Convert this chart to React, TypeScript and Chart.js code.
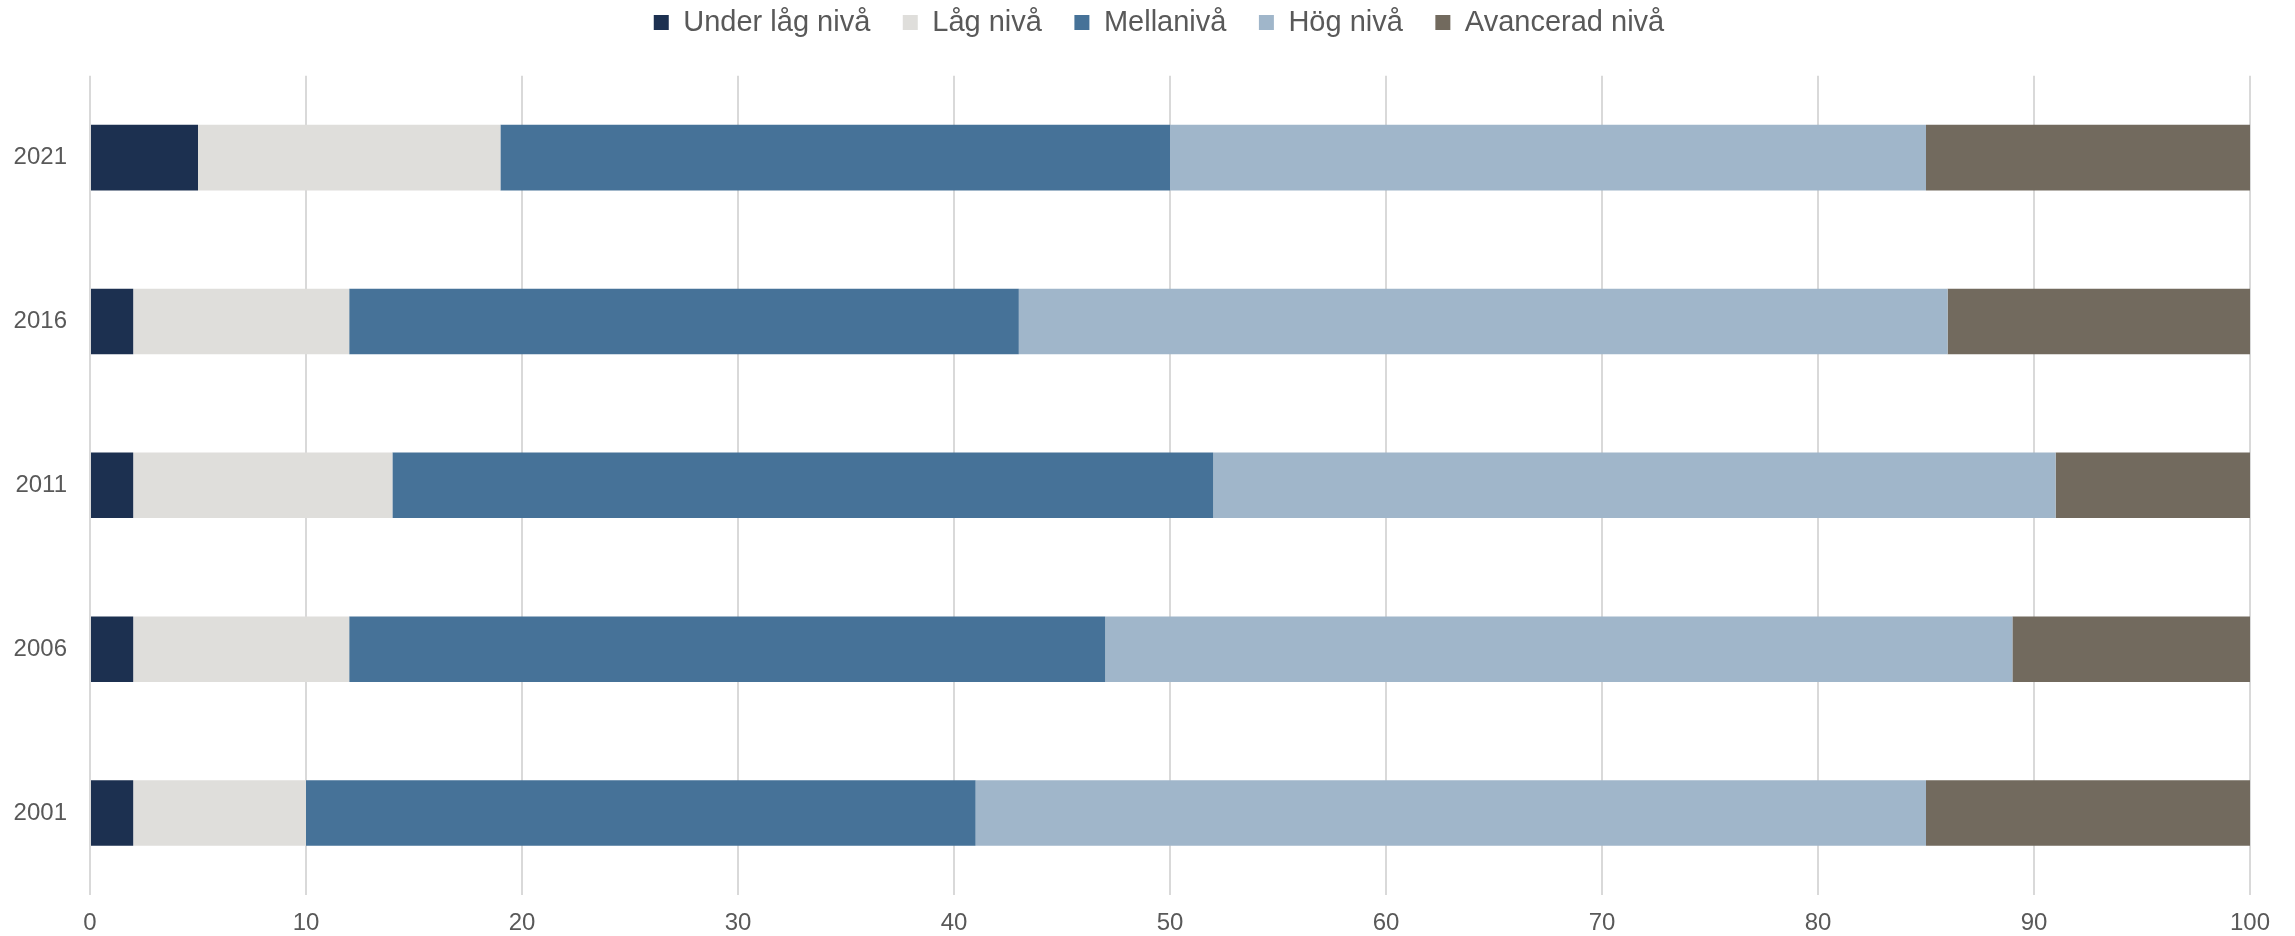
import React, { useEffect, useRef } from "react";
import { Chart, registerables } from "chart.js";

Chart.register(...registerables);

const years = ["2021", "2016", "2011", "2006", "2001"];
const seriesNames = ["Under låg nivå", "Låg nivå", "Mellanivå", "Hög nivå", "Avancerad nivå"];
const underLag = [5, 2, 2, 2, 2];
const lag = [14, 10, 12, 10, 8];
const mellan = [31, 31, 38, 35, 31];
const hog = [35, 43, 39, 42, 44];
const avancerad = [15, 14, 9, 11, 15];
const xTicks = [0, 10, 20, 30, 40, 50, 60, 70, 80, 90, 100];

const colors = ["#1c3050", "#dfdedb", "#467298", "#a0b6ca", "#726a5e"];
const FONT = "'Liberation Sans', Arial, Helvetica, sans-serif";
const TEXT = "#595959";

export default function App() {
  const ref = useRef<HTMLCanvasElement | null>(null);

  useEffect(() => {
    const canvas = ref.current;
    if (!canvas) return;
    const values = [underLag, lag, mellan, hog, avancerad];
    const legendPatch = {
      id: "legendPatch",
      beforeLayout(chart: any) {
        const lg = chart.legend;
        if (lg && !lg._patched) {
          const orig = lg.fit;
          lg.fit = function () {
            orig.call(this);
            this.height = 100.2;
          };
          lg._patched = true;
        }
      },
      afterLayout(chart: any) {
        const lg = chart.legend;
        if (lg) {
          lg.left = 68;
          lg.right = 2250;
          lg.width = lg.right - lg.left;
        }
      },
    };
    const chart = new Chart(canvas, {
      type: "bar",
      data: {
        labels: years,
        datasets: seriesNames.map((name, i) => ({
          label: name,
          data: values[i],
          backgroundColor: colors[i],
          borderWidth: 0,
          categoryPercentage: 1,
          barPercentage: 0.4,
        })),
      },
      options: {
        indexAxis: "y",
        animation: false,
        responsive: false,
        devicePixelRatio: 1,
        layout: { padding: { top: -24.5, left: 0, right: 45, bottom: 0 } },
        plugins: {
          tooltip: { enabled: false },
          legend: {
            position: "top",
            align: "center",
            labels: {
              boxWidth: 15,
              boxHeight: 15,
              padding: 32.5,
              color: TEXT,
              font: { family: FONT, size: 29 },
            },
          },
        },
        scales: {
          x: {
            stacked: true,
            min: 0,
            max: 100,
            afterBuildTicks(scale: any) {
              scale.ticks = xTicks.map((v) => ({ value: v }));
            },
            afterFit(scale: any) {
              scale.height = 41;
            },
            grid: { color: "#d9d9d9", lineWidth: 2, drawTicks: false },
            border: { display: false },
            ticks: {
              color: TEXT,
              font: { family: FONT, size: 24 },
              padding: 14,
            },
          },
          y: {
            stacked: true,
            afterFit(scale: any) {
              scale.width = 90;
            },
            grid: { display: false, drawTicks: false },
            border: { display: false },
            ticks: {
              color: TEXT,
              font: { family: FONT, size: 24 },
              padding: 23,
            },
          },
        },
      },
      plugins: [legendPatch],
    } as any);
    return () => chart.destroy();
  }, []);

  return (
    <canvas
      ref={ref}
      width={2295}
      height={936}
      style={{ position: "absolute", left: 0, top: 0, width: 2295, height: 936 }}
    />
  );
}
